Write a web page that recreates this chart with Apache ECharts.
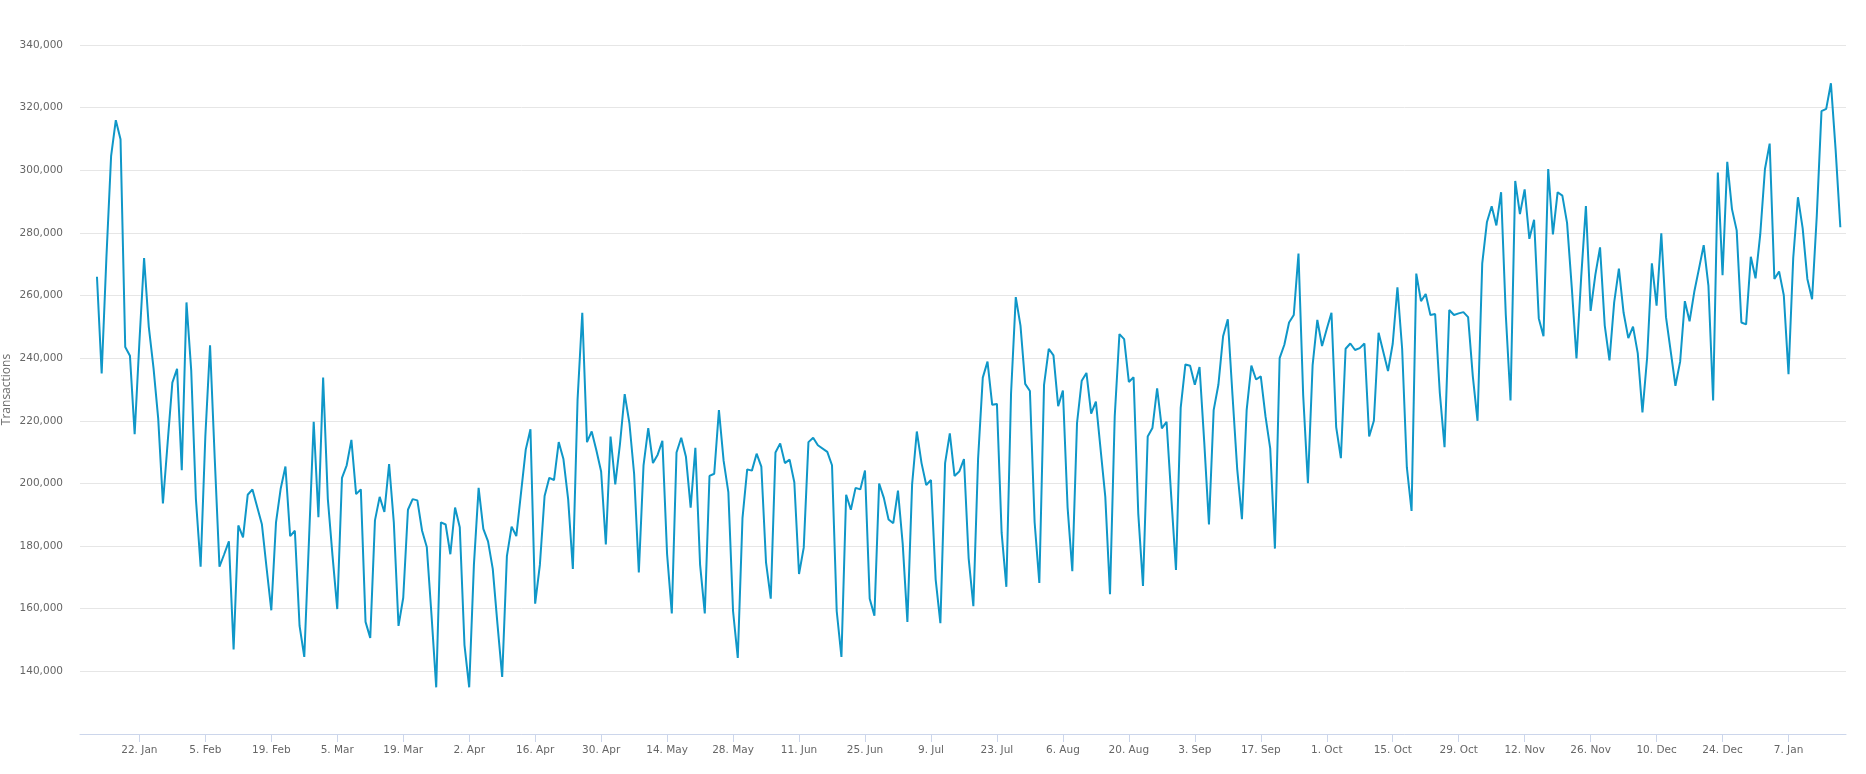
<!DOCTYPE html>
<html><head><meta charset="utf-8">
<script src="https://cdn.jsdelivr.net/npm/echarts@6/dist/echarts.min.js"></script>
<style>html,body{margin:0;padding:0;background:#fff}#c{width:1866px;height:774px}</style>
</head><body><div id="c"></div>
<script>
// Daily transactions, first day 2018-01-13 (null = day not distinguishable in the picture)
const startDay = [2018, 0, 13];
const values = [
266000,235100,272000,304500,316000,309900,243600,240800,215700,245000,
272000,250000,236900,220700,193600,213000,232200,236600,204200,257800,
236200,195000,173400,215000,244100,207800,173400,177400,181500,147000,
186600,182800,196400,198100,
null,
187000,173000,159500,187600,198400,205400,183200,184900,154500,144600,
182000,219700,189200,233800,195000,176800,159900,201800,205800,213900,
196600,198100,155800,150700,188200,195700,190900,206200,187600,154500,
163500,191600,195000,194600,184900,179700,158000,134900,187600,186900,
177400,192300,186000,148400,134900,174000,198600,185500,181500,172700,
155100,138200,176800,186200,183200,
null,
210800,217300,161600,174000,196000,201800,201100,213200,207800,195000,
172700,226800,254500,213200,216600,210500,203800,180500,215000,199700,
212600,228500,219300,203100,171600,205800,217700,206500,209200,213600,
177400,158500,209900,214600,208500,192300,211400,174100,158500,202400,
203100,223400,207200,197200,159200,144300,188900,204500,204100,209500,
205400,174700,163200,209900,212800,206500,207600,200400,171100,179500,
213200,214600,212200,
null,
210100,205800,159200,144600,196400,191600,198600,198100,204100,163200,
157800,200000,195400,188500,187300,197700,180800,155800,199700,216600,
206500,199500,201100,169300,155400,206500,216000,202400,203800,207800,
176100,160800,207800,233800,238900,225100,225400,184200,167000,228800,
259500,250400,231800,229500,187600,168200,231500,243000,240900,224700,
229700,192300,172000,219300,232800,235300,222300,226100,
null,
195700,164600,221400,247700,246100,232400,233900,190300,167300,215000,
217700,230400,217600,219700,195700,172400,224100,238000,237600,231500,
237200,213200,186900,223400,231500,247000,252400,228100,204500,188600,
223400,237600,233200,234200,221400,211200,179200,240000,244300,251400,
253800,273400,228100,200100,237800,252200,243900,249300,254500,218000,
208100,243000,244700,242600,243200,244700,215000,220000,248100,
null,
235900,244600,262600,243000,205100,191200,267000,258200,260500,253800,
254100,228800,211600,255400,253800,254300,254700,253100,234200,220000,
270300,283500,288500,282400,293000,253800,226500,296600,286000,293900,
278100,284200,252700,247000,300400,279500,293000,291900,283200,262600,
239900,265900,288600,255100,266600,275400,250400,239300,257800,268600,
254500,246400,250100,241600,222700,240300,270300,256800,279900,253100,
null,
231200,238900,258200,251800,261200,268600,276100,263200,226500,299300,
266500,302700,287600,280800,251400,250800,272400,265500,279500,300400,
308500,265300,267700,260100,234900,272000,291400,281500,265300,258800,
285500,318900,319600,327800,306500,281800
];
const tickDates = ['2018-01-22','2018-02-05','2018-02-19','2018-03-05','2018-03-19','2018-04-02','2018-04-16','2018-04-30','2018-05-14','2018-05-28','2018-06-11','2018-06-25','2018-07-09','2018-07-23','2018-08-06','2018-08-20','2018-09-03','2018-09-17','2018-10-01','2018-10-15','2018-10-29','2018-11-12','2018-11-26','2018-12-10','2018-12-24','2019-01-07'];
const tickLabels = ['22. Jan','5. Feb','19. Feb','5. Mar','19. Mar','2. Apr','16. Apr','30. Apr','14. May','28. May','11. Jun','25. Jun','9. Jul','23. Jul','6. Aug','20. Aug','3. Sep','17. Sep','1. Oct','15. Oct','29. Oct','12. Nov','26. Nov','10. Dec','24. Dec','7. Jan'];
const yMin = 120000, yMax = 340000, yStep = 20000;

const DAY = 86400000;
const t0 = Date.UTC(startDay[0], startDay[1], startDay[2]);
const data = values.map((v, i) => [t0 + i * DAY, v]);
const tickTs = tickDates.map(s => { const p = s.split('-').map(Number); return Date.UTC(p[0], p[1] - 1, p[2]); });
function findLabel(v) {
  for (let i = 0; i < tickTs.length; i++) if (Math.abs(tickTs[i] - v) < DAY / 2) return tickLabels[i];
  return '';
}

const chart = echarts.init(document.getElementById('c'), null, {renderer: 'canvas'});
chart.setOption({
  animation: false,
  backgroundColor: '#ffffff',
  grid: {left: 80, right: 20, top: 45, bottom: 40, outerBoundsMode: 'none', containLabel: false},
  xAxis: {
    type: 'value',
    min: t0 - 3.6 * DAY,
    max: t0 + 371.2 * DAY,
    axisLine: {show: true, lineStyle: {color: '#ccd6eb', width: 1}},
    axisTick: {show: true, customValues: tickTs, length: 8, lineStyle: {color: '#ccd6eb'}},
    axisLabel: {
      customValues: tickTs,
      formatter: v => findLabel(v),
      color: '#666666', fontFamily: 'DejaVu Sans', fontSize: 10.5, margin: 11
    },
    splitLine: {show: false}
  },
  yAxis: {
    type: 'value',
    min: yMin, max: yMax, interval: yStep,
    name: 'Transactions',
    nameLocation: 'middle',
    nameRotate: 90,
    nameGap: 73,
    nameMoveOverlap: false,
    nameTextStyle: {color: '#707070', fontFamily: 'Open Sans', fontSize: 12, verticalAlign: 'middle'},
    axisLine: {show: false},
    axisTick: {show: false},
    axisLabel: {
      showMinLabel: false,
      formatter: v => v.toLocaleString('en-US'),
      color: '#666666', fontFamily: 'DejaVu Sans', fontSize: 10.5, margin: 17
    },
    splitLine: {show: true, lineStyle: {color: '#e6e6e6', width: 1}}
  },
  series: [{
    type: 'line',
    data: data,
    showSymbol: false,
    connectNulls: true,
    lineStyle: {color: '#0f97c8', width: 2},
    itemStyle: {color: '#0f97c8'}
  }]
});
</script>
</body></html>
